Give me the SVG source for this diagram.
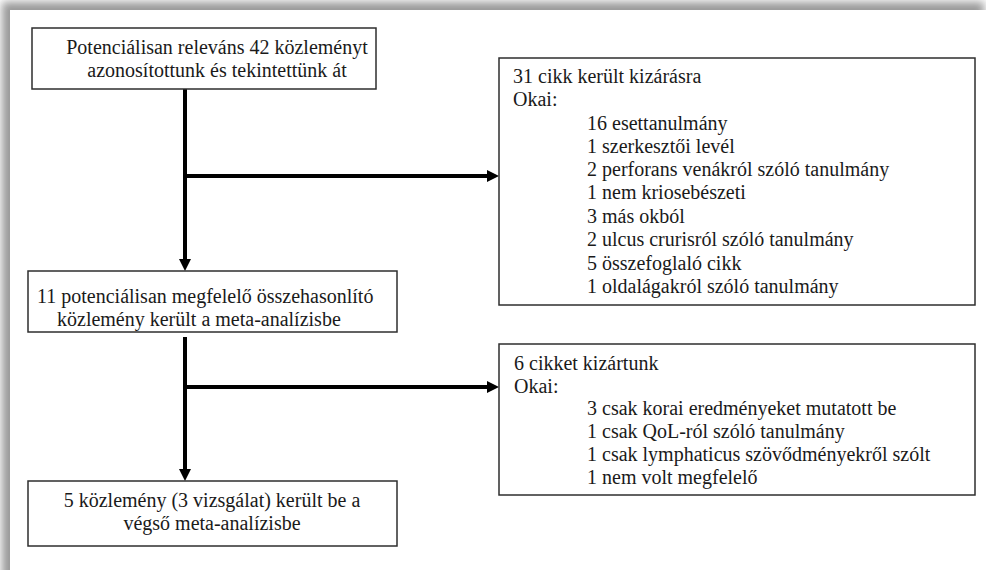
<svg xmlns="http://www.w3.org/2000/svg" width="986" height="570" viewBox="0 0 986 570">
  <style>
    .box { fill: #ffffff; stroke: #2e2e2e; stroke-width: 1.5; }
    .conn { stroke: #000000; stroke-width: 4; fill: none; }
    text { font-family: "Liberation Serif", "DejaVu Serif", serif; font-size: 20px; fill: #1a1a1a; }
  </style>
  <defs>
    <filter id="blur" x="-5%" y="-5%" width="110%" height="110%">
      <feGaussianBlur stdDeviation="4"/>
    </filter>
    <marker id="arrow" markerUnits="userSpaceOnUse" markerWidth="12" markerHeight="12" refX="0" refY="6" orient="auto">
      <path d="M0,0 L12,6 L0,12 z" fill="#000000"/>
    </marker>
  </defs>

  <rect x="0" y="0" width="986" height="570" fill="#ffffff"/>
  <rect x="2" y="2" width="982" height="620" fill="#9a9a9a" filter="url(#blur)"/>
  <rect x="10" y="10" width="1000" height="600" fill="#ffffff"/>

  <g id="connectors">
    <line class="conn" x1="185" y1="89" x2="185" y2="259" marker-end="url(#arrow)"/>
    <line class="conn" x1="185" y1="176" x2="487" y2="176" marker-end="url(#arrow)"/>
    <line class="conn" x1="185" y1="337" x2="185" y2="469" marker-end="url(#arrow)"/>
    <line class="conn" x1="185" y1="387" x2="487" y2="387" marker-end="url(#arrow)"/>
  </g>

  <g id="node-identified" text-anchor="middle">
    <rect class="box" x="32" y="28" width="344" height="61"/>
    <text x="217" y="54">Potenciálisan releváns 42 közleményt</text>
    <text x="217" y="77">azonosítottunk és tekintettünk át</text>
  </g>

  <g id="node-excluded-31">
    <rect class="box" x="499" y="58" width="476" height="247"/>
    <text x="513" y="83">31 cikk került kizárásra</text>
    <text x="513" y="106">Okai:</text>
    <text x="587" y="130">16 esettanulmány</text>
    <text x="587" y="153">1 szerkesztői levél</text>
    <text x="587" y="176">2 perforans venákról szóló tanulmány</text>
    <text x="587" y="199">1 nem kriosebészeti</text>
    <text x="587" y="223">3 más okból</text>
    <text x="587" y="246">2 ulcus crurisról szóló tanulmány</text>
    <text x="587" y="270">5 összefoglaló cikk</text>
    <text x="587" y="293">1 oldalágakról szóló tanulmány</text>
  </g>

  <g id="node-eligible">
    <rect class="box" x="28" y="271" width="369" height="61"/>
    <text x="37" y="303">11 potenciálisan megfelelő összehasonlító</text>
    <text x="57" y="326">közlemény került a meta-analízisbe</text>
  </g>

  <g id="node-excluded-6">
    <rect class="box" x="499" y="344" width="476" height="151"/>
    <text x="514" y="370">6 cikket kizártunk</text>
    <text x="514" y="393">Okai:</text>
    <text x="587" y="415">3 csak korai eredményeket mutatott be</text>
    <text x="587" y="438">1 csak QoL-ról szóló tanulmány</text>
    <text x="587" y="461">1 csak lymphaticus szövődményekről szólt</text>
    <text x="587" y="484">1 nem volt megfelelő</text>
  </g>

  <g id="node-final" text-anchor="middle">
    <rect class="box" x="28" y="481" width="369" height="65"/>
    <text x="212" y="507">5 közlemény (3 vizsgálat) került be a</text>
    <text x="212" y="530">végső meta-analízisbe</text>
  </g>
</svg>
